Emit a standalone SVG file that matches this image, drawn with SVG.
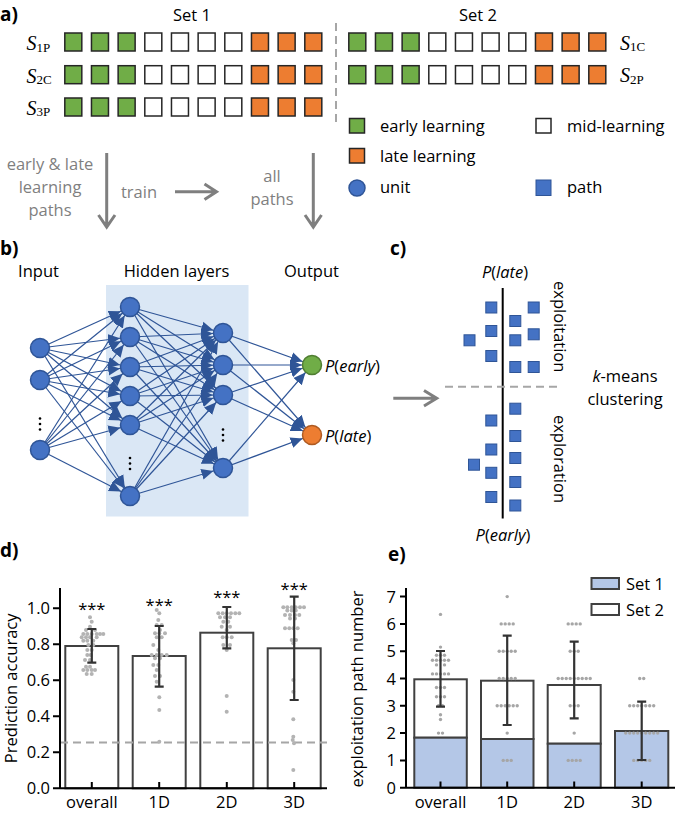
<svg xmlns="http://www.w3.org/2000/svg" xmlns:xlink="http://www.w3.org/1999/xlink" width="675" height="816" viewBox="0 0 675 816">
<defs>
<style>
text{font-family:"Open Sans","Liberation Sans",sans-serif;font-size:16.5px;fill:#000}
.lab{font-weight:bold;font-size:19px}
.gr{fill:#7f7f7f}
.mid{text-anchor:middle}
.end{text-anchor:end}
.it{font-style:italic}
.ser{font-family:"Liberation Serif","Times New Roman",serif}
.sq{stroke:#262626;stroke-width:1.5}
.g{fill:#70ad47}.w{fill:#fff}.o{fill:#ed7d31}
.arr{fill:none;stroke:#7f7f7f;stroke-width:3}
.net line{stroke:#2f5597;stroke-width:1.2;marker-end:url(#ah)}
.u{fill:#4472c4;stroke:#2f5597;stroke-width:1.5}
.p{fill:#4472c4;stroke:#2f5597;stroke-width:1}
.bar{fill:#fff;stroke:#404040;stroke-width:2}
.bb{fill:#b4c7e7;stroke:#404040;stroke-width:2}
.ax{stroke:#000;stroke-width:2;fill:none}
.eb{stroke:#333;stroke-width:2.2;fill:none}
.dd{fill:#b3b3b3}
.de{fill:#a6a6a6}
.dash{stroke:#a6a6a6;stroke-width:2;stroke-dasharray:8 5;fill:none}
</style>
<marker id="ah" markerUnits="userSpaceOnUse" markerWidth="23" markerHeight="12" refX="22" refY="6" orient="auto">
<path d="M0,0.5 L12,6 L0,11.5 Z" fill="#2f5597"/>
</marker>
<g id="row">
<rect class="sq g" x="0" y="0" width="17" height="18"/>
<rect class="sq g" x="26.67" y="0" width="17" height="18"/>
<rect class="sq g" x="53.33" y="0" width="17" height="18"/>
<rect class="sq w" x="80" y="0" width="17" height="18"/>
<rect class="sq w" x="106.67" y="0" width="17" height="18"/>
<rect class="sq w" x="133.33" y="0" width="17" height="18"/>
<rect class="sq w" x="160" y="0" width="17" height="18"/>
<rect class="sq o" x="186.67" y="0" width="17" height="18"/>
<rect class="sq o" x="213.33" y="0" width="17" height="18"/>
<rect class="sq o" x="240" y="0" width="17" height="18"/>
</g>
</defs>
<rect width="675" height="816" fill="#fff"/>

<!-- Panel a -->
<g id="panel-a">
<text class="lab" x="0" y="21">a)</text>
<text class="mid" x="192" y="20.5">Set 1</text>
<text class="mid" x="478" y="20.5">Set 2</text>
<use xlink:href="#row" x="64.8" y="33"/>
<use xlink:href="#row" x="64.8" y="65.7"/>
<use xlink:href="#row" x="64.8" y="98"/>
<use xlink:href="#row" x="348.8" y="33"/>
<use xlink:href="#row" x="348.8" y="65.7"/>
<text class="ser" x="26.5" y="50"><tspan class="it" font-size="20">S</tspan><tspan font-size="13" dy="1.5">1P</tspan></text>
<text class="ser" x="26.5" y="82.5"><tspan class="it" font-size="20">S</tspan><tspan font-size="13" dy="1.5">2C</tspan></text>
<text class="ser" x="26.5" y="114.5"><tspan class="it" font-size="20">S</tspan><tspan font-size="13" dy="1.5">3P</tspan></text>
<text class="ser" x="620" y="49.5"><tspan class="it" font-size="20">S</tspan><tspan font-size="13" dy="1.5">1C</tspan></text>
<text class="ser" x="620" y="82"><tspan class="it" font-size="20">S</tspan><tspan font-size="13" dy="1.5">2P</tspan></text>
<line class="dash" x1="336" y1="23" x2="336" y2="126" stroke-dasharray="6 5"/>
<!-- legend -->
<rect class="sq g" x="349.5" y="118.5" width="15" height="14.5"/>
<text x="380" y="131.5">early learning</text>
<rect class="sq w" x="536" y="118.5" width="15" height="14.5"/>
<text x="567" y="131.5">mid-learning</text>
<rect class="sq o" x="349.5" y="148.5" width="15" height="14.5"/>
<text x="380" y="161.5">late learning</text>
<circle class="u" cx="357" cy="188" r="8"/>
<text x="380" y="193">unit</text>
<rect class="p" x="536" y="180" width="15" height="15.5"/>
<text x="567" y="193">path</text>
<!-- flow -->
<text class="gr mid" x="50" y="170">early &amp; late</text>
<text class="gr mid" x="50" y="193">learning</text>
<text class="gr mid" x="50" y="215.5">paths</text>
<text class="gr mid" x="139" y="198">train</text>
<text class="gr mid" x="272" y="181.5">all</text>
<text class="gr mid" x="272" y="205">paths</text>
<path class="arr" d="M106.7,153 V226 M98.5,215 L106.7,227 L115,215"/>
<path class="arr" d="M175,191.7 H215 M204.5,184 L216.5,191.7 L204.5,199.4"/>
<path class="arr" d="M313.3,153 V226 M305,215 L313.3,227 L321.5,215"/>
</g>

<!-- Panel b -->
<g id="panel-b">
<text class="lab" x="0" y="255">b)</text>
<text class="mid" x="38.5" y="276.5">Input</text>
<text class="mid" x="176.5" y="276.5">Hidden layers</text>
<text class="mid" x="311.5" y="276.5">Output</text>
<rect x="106" y="285" width="142.5" height="231.5" fill="#dae7f5"/>
<g id="connectors" class="net">
<line x1="40" y1="348" x2="130" y2="307"/><line x1="40" y1="348" x2="130" y2="337"/><line x1="40" y1="348" x2="130" y2="367"/><line x1="40" y1="348" x2="130" y2="396"/><line x1="40" y1="348" x2="130" y2="425"/><line x1="40" y1="348" x2="130" y2="496"/>
<line x1="40" y1="380" x2="130" y2="307"/><line x1="40" y1="380" x2="130" y2="337"/><line x1="40" y1="380" x2="130" y2="367"/><line x1="40" y1="380" x2="130" y2="396"/><line x1="40" y1="380" x2="130" y2="425"/><line x1="40" y1="380" x2="130" y2="496"/>
<line x1="40" y1="450" x2="130" y2="307"/><line x1="40" y1="450" x2="130" y2="337"/><line x1="40" y1="450" x2="130" y2="367"/><line x1="40" y1="450" x2="130" y2="396"/><line x1="40" y1="450" x2="130" y2="425"/><line x1="40" y1="450" x2="130" y2="496"/>
<line x1="130" y1="307" x2="223" y2="333"/><line x1="130" y1="307" x2="223" y2="365"/><line x1="130" y1="307" x2="223" y2="395"/><line x1="130" y1="307" x2="223" y2="468"/>
<line x1="130" y1="337" x2="223" y2="333"/><line x1="130" y1="337" x2="223" y2="365"/><line x1="130" y1="337" x2="223" y2="395"/><line x1="130" y1="337" x2="223" y2="468"/>
<line x1="130" y1="367" x2="223" y2="333"/><line x1="130" y1="367" x2="223" y2="365"/><line x1="130" y1="367" x2="223" y2="395"/><line x1="130" y1="367" x2="223" y2="468"/>
<line x1="130" y1="396" x2="223" y2="333"/><line x1="130" y1="396" x2="223" y2="365"/><line x1="130" y1="396" x2="223" y2="395"/><line x1="130" y1="396" x2="223" y2="468"/>
<line x1="130" y1="425" x2="223" y2="333"/><line x1="130" y1="425" x2="223" y2="365"/><line x1="130" y1="425" x2="223" y2="395"/><line x1="130" y1="425" x2="223" y2="468"/>
<line x1="130" y1="496" x2="223" y2="333"/><line x1="130" y1="496" x2="223" y2="365"/><line x1="130" y1="496" x2="223" y2="395"/><line x1="130" y1="496" x2="223" y2="468"/>
<line x1="223" y1="333" x2="312" y2="365"/><line x1="223" y1="333" x2="312" y2="435"/>
<line x1="223" y1="365" x2="312" y2="365"/><line x1="223" y1="365" x2="312" y2="435"/>
<line x1="223" y1="395" x2="312" y2="365"/><line x1="223" y1="395" x2="312" y2="435"/>
<line x1="223" y1="468" x2="312" y2="365"/><line x1="223" y1="468" x2="312" y2="435"/>
</g>
<g id="input-nodes">
<circle class="u" cx="40" cy="348" r="9.5"/><circle class="u" cx="40" cy="380" r="9.5"/><circle class="u" cx="40" cy="450" r="9.5"/>
<circle cx="40" cy="418.5" r="1.3"/><circle cx="40" cy="424" r="1.3"/><circle cx="40" cy="429.5" r="1.3"/>
</g>
<g id="hidden1-nodes">
<circle class="u" cx="130" cy="307" r="9.5"/><circle class="u" cx="130" cy="337" r="9.5"/><circle class="u" cx="130" cy="367" r="9.5"/><circle class="u" cx="130" cy="396" r="9.5"/><circle class="u" cx="130" cy="425" r="9.5"/><circle class="u" cx="130" cy="496" r="9.5"/>
<circle cx="130" cy="458" r="1.3"/><circle cx="130" cy="463.5" r="1.3"/><circle cx="130" cy="469" r="1.3"/>
</g>
<g id="hidden2-nodes">
<circle class="u" cx="223" cy="333" r="9.5"/><circle class="u" cx="223" cy="365" r="9.5"/><circle class="u" cx="223" cy="395" r="9.5"/><circle class="u" cx="223" cy="468" r="9.5"/>
<circle cx="223" cy="429.5" r="1.3"/><circle cx="223" cy="435" r="1.3"/><circle cx="223" cy="440.5" r="1.3"/>
</g>
<g id="output-early">
<circle cx="312" cy="365" r="9.5" fill="#70ad47" stroke="#507e32" stroke-width="1.5"/>
<text x="325" y="371.5"><tspan class="it">P</tspan>(<tspan class="it">early</tspan>)</text>
</g>
<g id="output-late">
<circle cx="312" cy="435" r="9.5" fill="#ed7d31" stroke="#ae5a21" stroke-width="1.5"/>
<text x="325" y="441.5"><tspan class="it">P</tspan>(<tspan class="it">late</tspan>)</text>
</g>
</g>

<!-- Panel c -->
<g id="panel-c">
<text class="lab" x="390" y="255">c)</text>
<path class="arr" d="M393.3,398.3 H435.5 M424,390.5 L436.7,398.3 L424,406"/>
<text class="mid" x="505" y="278"><tspan class="it">P</tspan>(<tspan class="it">late</tspan>)</text>
<text class="mid" x="503" y="541"><tspan class="it">P</tspan>(<tspan class="it">early</tspan>)</text>
<line x1="502.7" y1="288" x2="502.7" y2="518.5" stroke="#000" stroke-width="2"/>
<line class="dash" x1="445" y1="386.7" x2="562" y2="386.7" stroke-dasharray="7 5"/>
<g id="paths">
<rect class="p" x="485.8" y="302" width="11" height="11"/>
<rect class="p" x="528.2" y="302" width="11" height="11"/>
<rect class="p" x="509.8" y="315.5" width="11" height="11"/>
<rect class="p" x="485.8" y="325.5" width="11" height="11"/>
<rect class="p" x="528.2" y="328.8" width="11" height="11"/>
<rect class="p" x="509.8" y="334.8" width="11" height="11"/>
<rect class="p" x="464" y="334.8" width="11" height="11"/>
<rect class="p" x="485.8" y="350.5" width="11" height="11"/>
<rect class="p" x="509.8" y="361.5" width="11" height="11"/>
<rect class="p" x="528.2" y="361.5" width="11" height="11"/>
<rect class="p" x="509.8" y="403.2" width="11" height="11"/>
<rect class="p" x="485.8" y="415" width="11" height="11"/>
<rect class="p" x="509.8" y="430.5" width="11" height="11"/>
<rect class="p" x="485.8" y="444" width="11" height="11"/>
<rect class="p" x="509.8" y="452.5" width="11" height="11"/>
<rect class="p" x="468.5" y="459.2" width="11" height="11"/>
<rect class="p" x="485.8" y="467.3" width="11" height="11"/>
<rect class="p" x="509.8" y="476.5" width="11" height="11"/>
<rect class="p" x="485.8" y="491.5" width="11" height="11"/>
<rect class="p" x="509.8" y="500" width="11" height="11"/>
</g>
<text class="mid" transform="translate(554,326.7) rotate(90)">exploitation</text>
<text class="mid" transform="translate(554,459) rotate(90)">exploration</text>
<text class="mid" x="625" y="381.5"><tspan class="it">k</tspan>-means</text>
<text class="mid" x="625" y="405">clustering</text>
</g>

<!-- Panel d -->
<g id="panel-d">
<text class="lab" x="0" y="557">d)</text>
<text class="mid" font-size="16" transform="translate(17,688.3) rotate(-90)">Prediction accuracy</text>
<rect class="bar" x="65.3" y="646" width="53" height="142.3"/>
<rect class="bar" x="132.7" y="656" width="53" height="132.3"/>
<rect class="bar" x="200.3" y="632.7" width="53" height="155.6"/>
<rect class="bar" x="267.7" y="648.3" width="53" height="140"/>
<line class="dash" x1="60" y1="742.5" x2="327" y2="742.5"/>
<g id="dots-d" class="dd">
<circle cx="90" cy="617.3" r="2"/><circle cx="91.7" cy="621.7" r="2"/><circle cx="90" cy="626.7" r="2"/><circle cx="86" cy="630" r="2"/><circle cx="95" cy="630" r="2"/>
<circle cx="83.3" cy="634" r="2"/><circle cx="87.3" cy="634" r="2"/><circle cx="91.7" cy="634" r="2"/><circle cx="96.7" cy="634" r="2"/><circle cx="100" cy="634" r="2"/><circle cx="103.3" cy="634" r="2"/>
<circle cx="81.7" cy="637.3" r="2"/><circle cx="86" cy="637.3" r="2"/><circle cx="90" cy="637.3" r="2"/><circle cx="96.7" cy="637.3" r="2"/>
<circle cx="83.3" cy="640.7" r="2"/><circle cx="87.3" cy="640.7" r="2"/><circle cx="93.3" cy="640.7" r="2"/>
<circle cx="88.3" cy="645" r="2"/><circle cx="93.3" cy="645" r="2"/><circle cx="87.3" cy="650" r="2"/><circle cx="91.7" cy="650" r="2"/>
<circle cx="87.3" cy="655" r="2"/><circle cx="90.7" cy="655" r="2"/><circle cx="85" cy="660" r="2"/><circle cx="90" cy="660" r="2"/>
<circle cx="86" cy="666.7" r="2"/><circle cx="90" cy="666.7" r="2"/>
<circle cx="83.3" cy="670" r="2"/><circle cx="87.3" cy="670" r="2"/><circle cx="91.7" cy="670" r="2"/><circle cx="95" cy="670" r="2"/>
<circle cx="86.7" cy="674" r="2"/><circle cx="91.7" cy="674" r="2"/>
<circle cx="156.7" cy="610" r="2"/><circle cx="159.3" cy="613.3" r="2"/><circle cx="158.3" cy="620" r="2"/><circle cx="156.7" cy="625" r="2"/><circle cx="161.7" cy="625" r="2"/><circle cx="160" cy="630" r="2"/>
<circle cx="155" cy="633.3" r="2"/><circle cx="159.3" cy="633.3" r="2"/><circle cx="165" cy="633.3" r="2"/><circle cx="156.7" cy="637.3" r="2"/><circle cx="161.7" cy="637.3" r="2"/>
<circle cx="153.3" cy="645" r="2"/><circle cx="158.3" cy="650" r="2"/>
<circle cx="151.7" cy="655" r="2"/><circle cx="156.7" cy="655" r="2"/><circle cx="161.7" cy="655" r="2"/><circle cx="166.7" cy="655" r="2"/>
<circle cx="155" cy="658.3" r="2"/><circle cx="160" cy="658.3" r="2"/><circle cx="153.3" cy="665" r="2"/><circle cx="158.3" cy="665" r="2"/>
<circle cx="156.7" cy="670" r="2"/><circle cx="155" cy="676" r="2"/><circle cx="160" cy="676" r="2"/><circle cx="156.7" cy="681.7" r="2"/>
<circle cx="159.3" cy="697.3" r="2"/><circle cx="159.3" cy="710" r="2"/><circle cx="159.3" cy="741.7" r="2"/>
<circle cx="218.3" cy="613.3" r="2"/><circle cx="222.7" cy="613.3" r="2"/><circle cx="226.7" cy="613.3" r="2"/><circle cx="231" cy="613.3" r="2"/><circle cx="235.3" cy="613.3" r="2"/><circle cx="239.3" cy="613.3" r="2"/>
<circle cx="220" cy="617.3" r="2"/><circle cx="225" cy="617.3" r="2"/><circle cx="230" cy="617.3" r="2"/>
<circle cx="223.3" cy="621.7" r="2"/><circle cx="228.3" cy="621.7" r="2"/><circle cx="221.7" cy="626.7" r="2"/><circle cx="230" cy="626.7" r="2"/><circle cx="226.7" cy="630" r="2"/>
<circle cx="222.7" cy="637.3" r="2"/><circle cx="226.7" cy="637.3" r="2"/><circle cx="231.7" cy="637.3" r="2"/>
<circle cx="223.3" cy="645" r="2"/><circle cx="230" cy="645" r="2"/><circle cx="226.7" cy="650" r="2"/>
<circle cx="226.7" cy="696" r="2"/><circle cx="226.7" cy="711.7" r="2"/>
<circle cx="283.3" cy="607.3" r="2"/><circle cx="287.3" cy="607.3" r="2"/><circle cx="291.7" cy="607.3" r="2"/><circle cx="295.7" cy="607.3" r="2"/><circle cx="300" cy="607.3" r="2"/><circle cx="304" cy="607.3" r="2"/>
<circle cx="287.3" cy="610.5" r="2"/><circle cx="291.7" cy="610.5" r="2"/><circle cx="295.7" cy="610.5" r="2"/>
<circle cx="285" cy="615" r="2"/><circle cx="290" cy="615" r="2"/><circle cx="295" cy="615" r="2"/><circle cx="299.3" cy="615" r="2"/>
<circle cx="290" cy="618.5" r="2"/><circle cx="295" cy="618.5" r="2"/>
<circle cx="285" cy="628.3" r="2"/><circle cx="289.3" cy="628.3" r="2"/><circle cx="293.3" cy="628.3" r="2"/><circle cx="297.7" cy="628.3" r="2"/>
<circle cx="291.7" cy="640" r="2"/><circle cx="296" cy="640" r="2"/><circle cx="293.3" cy="643.3" r="2"/>
<circle cx="293.3" cy="680" r="2"/><circle cx="293.3" cy="691.7" r="2"/><circle cx="293.3" cy="719.3" r="2"/>
<circle cx="293.3" cy="736.7" r="2"/><circle cx="292.7" cy="740" r="2"/><circle cx="294" cy="743.3" r="2"/><circle cx="293.3" cy="770" r="2"/>
</g>
<path class="eb" d="M91.8,629 V662.7 M87.3,629 H96.3 M87.3,662.7 H96.3"/>
<path class="eb" d="M159.2,626 V686.7 M154.7,626 H163.7 M154.7,686.7 H163.7"/>
<path class="eb" d="M226.8,607 V648.3 M222.3,607 H231.3 M222.3,648.3 H231.3"/>
<path class="eb" d="M294.2,596.7 V700 M289.7,596.7 H298.7 M289.7,700 H298.7"/>
<text class="mid" x="91.8" y="615">***</text>
<text class="mid" x="159.2" y="611">***</text>
<text class="mid" x="226.8" y="603">***</text>
<text class="mid" x="294.2" y="595">***</text>
<path class="ax" d="M60,588 V788.3 H327 M53,608.3 H60 M53,644.3 H60 M53,680.3 H60 M53,716.3 H60 M53,752.3 H60 M53,788.3 H60"/>
<path class="ax" d="M91.8,788.3 V782 M159.2,788.3 V782 M226.8,788.3 V782 M294.2,788.3 V782"/>
<text class="end" x="50" y="614.3">1.0</text>
<text class="end" x="50" y="650.3">0.8</text>
<text class="end" x="50" y="686.3">0.6</text>
<text class="end" x="50" y="722.3">0.4</text>
<text class="end" x="50" y="758.3">0.2</text>
<text class="end" x="50" y="794.3">0.0</text>
<text class="mid" x="91.8" y="808">overall</text>
<text class="mid" x="159.2" y="808">1D</text>
<text class="mid" x="226.8" y="808">2D</text>
<text class="mid" x="294.2" y="808">3D</text>
</g>

<!-- Panel e -->
<g id="panel-e">
<text class="lab" x="388" y="561">e)</text>
<text class="mid" transform="translate(363,689) rotate(-90)">exploitation path number</text>
<rect class="bar" x="414.3" y="679.3" width="52.5" height="58.4"/>
<rect class="bb" x="414.3" y="737.7" width="52.5" height="50"/>
<rect class="bar" x="481" y="680.7" width="52.5" height="58.3"/>
<rect class="bb" x="481" y="739" width="52.5" height="48.7"/>
<rect class="bar" x="547.7" y="685" width="53" height="58.7"/>
<rect class="bb" x="547.7" y="743.7" width="53" height="44"/>
<rect class="bb" x="615" y="731" width="53.3" height="56.7"/>
<g id="dots-e" class="de">
<circle cx="440.5" cy="614.4" r="1.7"/><circle cx="440.5" cy="647.1" r="1.7"/>
<circle cx="436.5" cy="655.3" r="1.7"/><circle cx="440.5" cy="655.3" r="1.7"/><circle cx="444.5" cy="655.3" r="1.7"/>
<circle cx="432.5" cy="660.2" r="1.7"/><circle cx="436.5" cy="660.2" r="1.7"/><circle cx="440.5" cy="660.2" r="1.7"/><circle cx="444.5" cy="660.2" r="1.7"/><circle cx="448.5" cy="660.2" r="1.7"/>
<circle cx="436.5" cy="664.9" r="1.7"/><circle cx="444.5" cy="664.9" r="1.7"/>
<circle cx="432.5" cy="673.9" r="1.7"/><circle cx="436.5" cy="673.9" r="1.7"/><circle cx="440.5" cy="673.9" r="1.7"/><circle cx="444.5" cy="673.9" r="1.7"/><circle cx="448.5" cy="673.9" r="1.7"/>
<circle cx="436.5" cy="687.5" r="1.7"/><circle cx="440.5" cy="687.5" r="1.7"/><circle cx="444.5" cy="687.5" r="1.7"/>
<circle cx="436.5" cy="696.8" r="1.7"/><circle cx="440.5" cy="696.8" r="1.7"/><circle cx="444.5" cy="696.8" r="1.7"/>
<circle cx="438.5" cy="705.8" r="1.7"/><circle cx="442.5" cy="705.8" r="1.7"/>
<circle cx="440.5" cy="714.8" r="1.7"/><circle cx="440.5" cy="719.5" r="1.7"/>
<circle cx="438.5" cy="733.1" r="1.7"/><circle cx="442.5" cy="733.1" r="1.7"/>
<circle cx="507.2" cy="596.6" r="1.7"/>
<circle cx="501.2" cy="623.9" r="1.7"/><circle cx="505.2" cy="623.9" r="1.7"/><circle cx="509.2" cy="623.9" r="1.7"/><circle cx="513.2" cy="623.9" r="1.7"/>
<circle cx="499.2" cy="651.2" r="1.7"/><circle cx="503.2" cy="651.2" r="1.7"/><circle cx="507.2" cy="651.2" r="1.7"/><circle cx="511.2" cy="651.2" r="1.7"/><circle cx="515.2" cy="651.2" r="1.7"/>
<circle cx="499.2" cy="678.5" r="1.7"/><circle cx="503.2" cy="678.5" r="1.7"/><circle cx="507.2" cy="678.5" r="1.7"/><circle cx="511.2" cy="678.5" r="1.7"/><circle cx="515.2" cy="678.5" r="1.7"/>
<circle cx="497.2" cy="705.8" r="1.7"/><circle cx="501.2" cy="705.8" r="1.7"/><circle cx="505.2" cy="705.8" r="1.7"/><circle cx="509.2" cy="705.8" r="1.7"/><circle cx="513.2" cy="705.8" r="1.7"/><circle cx="517.2" cy="705.8" r="1.7"/>
<circle cx="507.2" cy="733.1" r="1.7"/>
<circle cx="503.2" cy="760.4" r="1.7"/><circle cx="507.2" cy="760.4" r="1.7"/><circle cx="511.2" cy="760.4" r="1.7"/>
<circle cx="568.2" cy="623.9" r="1.7"/><circle cx="572.2" cy="623.9" r="1.7"/><circle cx="576.2" cy="623.9" r="1.7"/><circle cx="580.2" cy="623.9" r="1.7"/>
<circle cx="570.2" cy="651.2" r="1.7"/><circle cx="574.2" cy="651.2" r="1.7"/><circle cx="578.2" cy="651.2" r="1.7"/>
<circle cx="558.2" cy="678.5" r="1.7"/><circle cx="562.2" cy="678.5" r="1.7"/><circle cx="566.2" cy="678.5" r="1.7"/><circle cx="570.2" cy="678.5" r="1.7"/><circle cx="574.2" cy="678.5" r="1.7"/><circle cx="578.2" cy="678.5" r="1.7"/><circle cx="582.2" cy="678.5" r="1.7"/><circle cx="586.2" cy="678.5" r="1.7"/><circle cx="590.2" cy="678.5" r="1.7"/>
<circle cx="570.2" cy="705.8" r="1.7"/><circle cx="574.2" cy="705.8" r="1.7"/><circle cx="578.2" cy="705.8" r="1.7"/>
<circle cx="574.2" cy="733.1" r="1.7"/>
<circle cx="568.2" cy="760.4" r="1.7"/><circle cx="572.2" cy="760.4" r="1.7"/><circle cx="576.2" cy="760.4" r="1.7"/><circle cx="580.2" cy="760.4" r="1.7"/>
<circle cx="639.7" cy="678.5" r="1.7"/><circle cx="643.7" cy="678.5" r="1.7"/>
<circle cx="629.7" cy="705.8" r="1.7"/><circle cx="633.7" cy="705.8" r="1.7"/><circle cx="637.7" cy="705.8" r="1.7"/><circle cx="641.7" cy="705.8" r="1.7"/><circle cx="645.7" cy="705.8" r="1.7"/><circle cx="649.7" cy="705.8" r="1.7"/><circle cx="653.7" cy="705.8" r="1.7"/>
<circle cx="625.7" cy="733.1" r="1.7"/><circle cx="629.7" cy="733.1" r="1.7"/><circle cx="633.7" cy="733.1" r="1.7"/><circle cx="637.7" cy="733.1" r="1.7"/><circle cx="641.7" cy="733.1" r="1.7"/><circle cx="645.7" cy="733.1" r="1.7"/><circle cx="649.7" cy="733.1" r="1.7"/><circle cx="653.7" cy="733.1" r="1.7"/><circle cx="657.7" cy="733.1" r="1.7"/>
<circle cx="633.7" cy="760.4" r="1.7"/><circle cx="637.7" cy="760.4" r="1.7"/><circle cx="641.7" cy="760.4" r="1.7"/><circle cx="645.7" cy="760.4" r="1.7"/><circle cx="649.7" cy="760.4" r="1.7"/>
</g>
<path class="eb" d="M440.5,651 V706.7 M436,651 H445 M436,706.7 H445"/>
<path class="eb" d="M507.2,635.7 V725 M502.7,635.7 H511.7 M502.7,725 H511.7"/>
<path class="eb" d="M574.2,641.7 V718.3 M569.7,641.7 H578.7 M569.7,718.3 H578.7"/>
<path class="eb" d="M641.7,701.7 V760 M637.2,701.7 H646.2 M637.2,760 H646.2"/>
<path class="ax" d="M406,588 V787.7 H675 M400,596.6 H406 M400,623.9 H406 M400,651.2 H406 M400,678.5 H406 M400,705.8 H406 M400,733.1 H406 M400,760.4 H406 M400,787.7 H406"/>
<path class="ax" d="M440.5,787.7 V781.5 M507.2,787.7 V781.5 M574.2,787.7 V781.5 M641.7,787.7 V781.5"/>
<text class="end" x="396" y="602.6">7</text>
<text class="end" x="396" y="629.9">6</text>
<text class="end" x="396" y="657.2">5</text>
<text class="end" x="396" y="684.5">4</text>
<text class="end" x="396" y="711.8">3</text>
<text class="end" x="396" y="739.1">2</text>
<text class="end" x="396" y="766.4">1</text>
<text class="end" x="396" y="793.7">0</text>
<text class="mid" x="440.5" y="808">overall</text>
<text class="mid" x="507.2" y="808">1D</text>
<text class="mid" x="574.2" y="808">2D</text>
<text class="mid" x="641.7" y="808">3D</text>
<g id="legend-e">
<rect class="bb" x="591.5" y="578" width="27.5" height="11" stroke-width="1.5"/>
<text x="626" y="589.5">Set 1</text>
<rect class="bar" x="591.5" y="604" width="27.5" height="11" stroke-width="1.5"/>
<text x="626" y="615.5">Set 2</text>
</g>
</g>
</svg>
